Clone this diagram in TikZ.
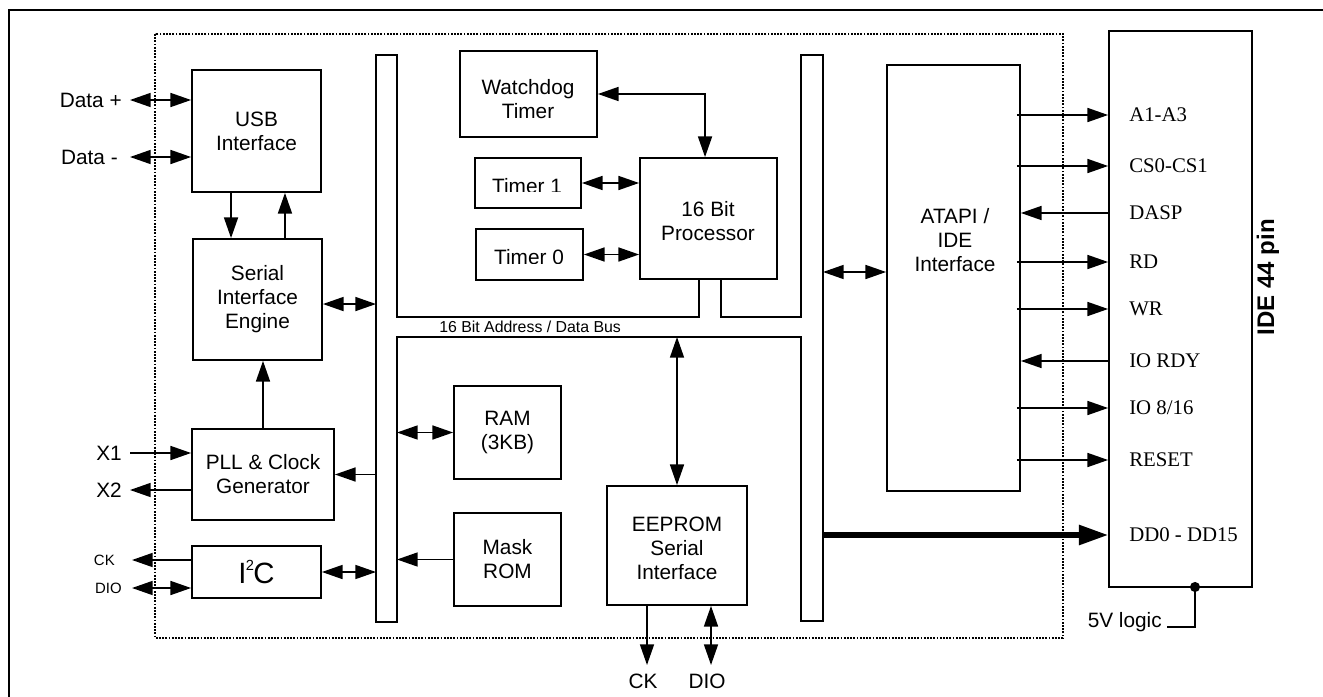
\documentclass[tikz,border=0pt]{standalone}
\usepackage{fontspec}
\setmainfont{Liberation Sans}
\newfontfamily\tms{Liberation Serif}
\usetikzlibrary{arrows.meta,calc}
\newcommand\bxf{\fontsize{15.6}{18}\selectfont}
\newcommand\smf{\fontsize{11.2}{13}\selectfont}
\begin{document}
\begin{tikzpicture}[x=0.75pt,y=-0.75pt,
  box/.style={draw,line width=1.35pt,inner sep=0pt,align=center,font=\bxf},
  lbl/.style={inner sep=0pt,font=\bxf,text height=11pt,text depth=0pt},
  slbl/.style={inner sep=0pt,font=\smf,text height=8pt,text depth=0pt},
  sig/.style={inner sep=0pt,anchor=west,font=\tms\bxf,text height=10.2pt,text depth=0pt},
  ln/.style={line width=1.2pt},
  uni/.style={ln,-{Triangle[length=15.5pt,width=10.5pt]}},
  bi/.style={ln,{Triangle[length=15.5pt,width=10.5pt]}-{Triangle[length=15.5pt,width=10.5pt]}},
  ddarrow/.style={line width=3.8pt,-{Triangle[length=22pt,width=14.5pt]}},
  busline/.style={line width=1.35pt,line join=miter}]
\useasboundingbox (0,0) rectangle (1323,696);
\clip (0,0) rectangle (1323,696);
% outer frame and chip boundary
\draw[line width=1.5pt] (9,10) rectangle (1360,740);
\draw[line width=1.3pt,dash pattern=on 1.3pt off 1.1pt] (155,34) rectangle (1063,638);
% bus outline
\draw[busline] (397,317) -- (397,55) -- (376,55) -- (376,622) -- (397,622) -- (397,337)
  -- (801,337) -- (801,621) -- (823,621) -- (823,55) -- (801,55) -- (801,317)
  -- (721,317) -- (721,279) -- (699,279) -- (699,317) -- cycle;
\coordinate (lbL) at (376,0);
\coordinate (lbR) at (397,0);
\coordinate (rbR) at (823,0);
\coordinate (busLo) at (0,337);
\node[anchor=west,inner sep=0pt,font=\fontsize{11.9}{13}\selectfont] (buslbl) at (439,327) {16 Bit Address / Data Bus};
% blocks
\node[box,minimum width=96.75pt,minimum height=91.5pt] (usb) at (256.5,131) {USB\\Interface};
\node[box,minimum width=96.75pt,minimum height=90.75pt] (sie) at (257.5,299.5) {Serial\\Interface\\Engine};
\node[box,minimum width=106.5pt,minimum height=68.25pt] (pll) at (263,474.5) {PLL \& Clock\\Generator};
\node[box,minimum width=96.75pt,minimum height=39pt,font=\fontsize{22}{24}\selectfont] (i2c) at (256.5,572) {I\kern-0.5pt\raisebox{0.42em}{\fontsize{11}{11}\selectfont 2}\kern-0.5pt C};
\node[box,minimum width=102.75pt,minimum height=64.5pt] (wdt) at (528.5,94) {};
\node[inner sep=0pt,align=center,font=\bxf] (wdttxt) at (528,99.5) {Watchdog\\Timer};
\node[box,minimum width=102.75pt,minimum height=90.75pt] (cpu) at (708.5,218.5) {};
\node[inner sep=0pt,align=center,font=\bxf] (cputxt) at (708,221.5) {16 Bit\\Processor};
\node[box,minimum width=79.5pt,minimum height=37.5pt] (t1) at (528,183) {};
\node[box,minimum width=80.25pt,minimum height=38.25pt] (t0) at (529.5,254.5) {};
\begin{scope}
  \clip (470,150) rectangle (590,191.6);
  \node[anchor=base,inner sep=0pt,font=\bxf] (t1txt) at (527,193) {Timer 1};
\end{scope}
\begin{scope}
  \clip (470,220) rectangle (590,263.6);
  \node[anchor=base,inner sep=0pt,font=\bxf] (t0txt) at (529,264.2) {Timer 0};
\end{scope}
\node[box,minimum width=80.25pt,minimum height=69.75pt] (ram) at (507.5,432.5) {RAM\\(3KB)};
\node[box,minimum width=80.25pt,minimum height=69.75pt] (rom) at (507.5,559.5) {Mask\\ROM};
\node[box,minimum width=105pt,minimum height=89.25pt] (eep) at (677,545.5) {};
\node[inner sep=0pt,align=center,font=\bxf] (eeptxt) at (677,548) {EEPROM\\Serial\\Interface};
\node[box,minimum width=99.75pt,minimum height=319.5pt] (atapi) at (953.5,278) {};
\node[inner sep=0pt,align=center,font=\bxf] (atxt) at (955,240) {ATAPI /\\IDE\\Interface};
\node[box,minimum width=107.25pt,minimum height=417pt] (ide) at (1180.5,309) {};
\node[rotate=90,inner sep=0pt,font=\bfseries\fontsize{18}{20}\selectfont] (idelbl) at (1268,277) {IDE 44 pin};
% left pins
\node[lbl,anchor=east] (dplus) at (122,100) {Data +};
\node[lbl,anchor=east] (dminus) at (118,157) {Data -};
\node[lbl,anchor=east] (x1) at (122,453) {X1};
\node[lbl,anchor=east] (x2) at (122,490) {X2};
\node[slbl,anchor=east] (ckL) at (115,560) {CK};
\node[slbl,anchor=east] (dioL) at (122,588) {DIO};
\draw[bi] ([xshift=6pt]dplus.east) -- (dplus.east -| usb.west);
\draw[bi] ([xshift=9pt]dminus.east) -- (dminus.east -| usb.west);
\draw[uni] ([xshift=6pt]x1.east) -- (x1.east -| pll.west);
\draw[uni] (x2.east -| pll.west) -- ([xshift=6pt]x2.east);
\draw[uni] (ckL.east -| i2c.west) -- ([xshift=12.75pt]ckL.east);
\draw[bi] ([xshift=7.5pt]dioL.east) -- (dioL.east -| i2c.west);
% internal connections left
\draw[uni] ([xshift=-19.1pt]usb.south) -- ([xshift=-19.1pt]usb.south |- sie.north);
\draw[uni] ([xshift=20.6pt]sie.north) -- ([xshift=20.6pt]sie.north |- usb.south);
\draw[uni] (pll.north) -- (pll.north |- sie.south);
\draw[bi] ([yshift=-3.4pt]sie.east) -- ([yshift=-3.4pt]sie.east -| lbL);
\draw[uni] (lbL |- pll.east) -- (pll.east);
\draw[bi] (i2c.east) -- (i2c.east -| lbL);
\draw[bi] (lbR |- ram.west) -- (ram.west);
\draw[uni] (rom.west) -- (rom.west -| lbR);
% processor area
\draw[bi] (wdt.east) -| ([xshift=-2.6pt]cpu.north);
\draw[bi] (t1.east) -- (t1.east -| cpu.west);
\draw[bi] (t0.east) -- (t0.east -| cpu.west);
% EEPROM
\draw[bi] (eep.north) -- (eep.north |- busLo);
\coordinate (ckpin) at (647,665);
\coordinate (diopin) at (711,665);
\draw[uni] (eep.south -| ckpin) -- (ckpin);
\draw[bi] (eep.south -| diopin) -- (diopin);
\node[lbl] (ckB) at (643,681) {CK};
\node[lbl] (dioB) at (707,681) {DIO};
% right bus to ATAPI
\coordinate (rbA) at (823,272);
\draw[bi] (rbA) -- (rbA -| atapi.west);
% IDE signals
\node[sig] (sA) at (1129,115) {A1-A3};
\node[sig] (sCS) at (1129,166) {CS0-CS1};
\node[sig] (sDASP) at (1129,213) {DASP};
\node[sig] (sRD) at (1129,262) {RD};
\node[sig] (sWR) at (1129,309) {WR};
\node[sig] (sRDY) at (1129,361) {IO RDY};
\node[sig] (sIO) at (1129,408) {IO 8/16};
\node[sig] (sRST) at (1129,460) {RESET};
\node[sig] (sDD) at (1129,535) {DD0 - DD15};
\draw[uni] ([xshift=-3pt]sA.west -| atapi.east) -- (sA.west -| ide.west);
\draw[uni] ([xshift=-3pt]sCS.west -| atapi.east) -- (sCS.west -| ide.west);
\draw[uni] (sDASP.west -| ide.west) -- (sDASP.west -| atapi.east);
\draw[uni] ([xshift=-3pt]sRD.west -| atapi.east) -- (sRD.west -| ide.west);
\draw[uni] ([xshift=-3pt]sWR.west -| atapi.east) -- (sWR.west -| ide.west);
\draw[uni] (sRDY.west -| ide.west) -- (sRDY.west -| atapi.east);
\draw[uni] ([xshift=-3pt]sIO.west -| atapi.east) -- (sIO.west -| ide.west);
\draw[uni] ([xshift=-3pt]sRST.west -| atapi.east) -- (sRST.west -| ide.west);
\draw[ddarrow] (sDD.west -| rbR) -- (sDD.west -| ide.west);
% 5V logic
\coordinate (vdot) at (1195,587);
\node[anchor=base east,inner sep=0pt,font=\bxf] (vlog) at (1162,627) {5V logic};
\draw[ln] (vdot) |- ([xshift=3.75pt]vlog.base east);
\fill (vdot) circle (3.8pt);
\end{tikzpicture}
\end{document}
